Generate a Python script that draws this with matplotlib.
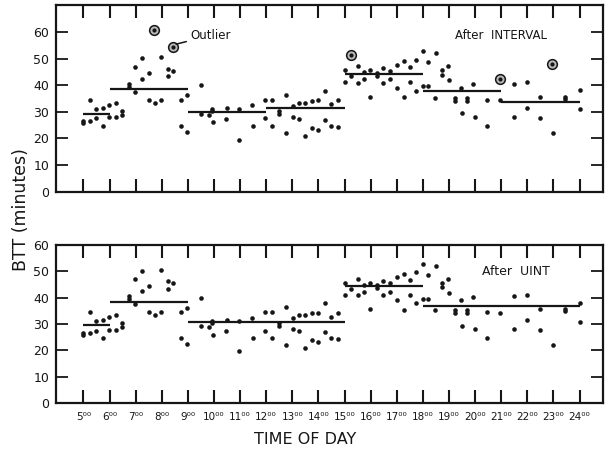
import matplotlib
matplotlib.use("Agg")
import matplotlib.pyplot as plt
import numpy as np

plt.rcParams["font.family"] = ["DejaVu Sans"]

INK = "#161616"

# regular points (time of day in hours, BTT in minutes)
hours = [5.0, 5.0, 5.26, 5.26, 5.49, 5.49, 5.74, 5.74, 5.99, 5.99,
         6.23, 6.23, 6.47, 6.47, 6.74, 6.74, 6.99, 6.99, 7.24, 7.24,
         7.5, 7.5, 7.76, 7.97, 7.97, 8.23, 8.23, 8.44, 8.72, 8.72,
         8.95, 8.97, 9.49, 9.49, 9.81, 9.94, 9.94, 9.96, 10.51, 10.47,
         10.96, 10.96, 11.47, 11.5, 11.95, 11.95, 12.24, 12.24, 12.5, 12.5,
         12.76, 12.76, 13.01, 13.01, 13.27, 13.27, 13.5, 13.5, 13.76, 13.76,
         14.0, 14.0, 14.25, 14.25, 14.48, 14.48, 14.76, 14.76, 15.02, 15.02,
         15.25, 15.5, 15.5, 15.73, 15.73, 15.98, 15.98, 16.24, 16.24, 16.49,
         16.49, 16.75, 16.75, 17.0, 17.0, 17.26, 17.26, 17.51, 17.51, 17.73,
         17.73, 18.02, 18.02, 18.21, 18.21, 18.47, 18.49, 18.75, 18.75, 18.96,
         19.0, 19.22, 19.22, 19.45, 19.5, 19.7, 19.7, 19.93, 19.98, 20.46,
         20.46, 20.95, 21.48, 21.48, 21.99, 21.99, 22.5, 22.5, 22.97, 23.45,
         23.45, 24.0, 24.0]
btt = [26.4, 25.7, 34.4, 26.5, 31.2, 27.5, 31.6, 24.8, 32.7, 27.9,
       33.4, 27.9, 30.4, 28.7, 40.6, 39.4, 46.9, 37.5, 50.2, 42.5,
       44.4, 34.6, 33.4, 50.6, 34.6, 46.2, 43.4, 45.4, 34.4, 24.6,
       36.2, 22.5, 40.0, 29.1, 28.7, 31.2, 30.4, 26.0, 31.5, 27.2,
       31.0, 19.6, 32.4, 24.6, 34.4, 27.5, 34.4, 24.6, 30.4, 29.1,
       36.4, 22.1, 32.1, 28.1, 33.4, 27.2, 33.4, 20.9, 34.0, 23.8,
       34.3, 23.1, 38.0, 27.0, 32.8, 24.7, 34.3, 24.2, 45.6, 41.2,
       43.4, 47.1, 40.9, 44.8, 42.2, 45.7, 35.6, 44.7, 43.5, 46.5,
       40.9, 45.5, 42.2, 47.7, 39.0, 48.9, 35.5, 46.7, 41.2, 49.6,
       37.9, 52.7, 39.6, 39.6, 48.7, 35.3, 52.2, 45.6, 44.0, 47.1,
       41.9, 35.3, 34.0, 39.0, 29.4, 35.3, 34.0, 40.4, 28.2, 34.4,
       24.5, 34.3, 40.6, 28.2, 41.2, 31.6, 35.6, 27.6, 22.2, 35.6,
       34.8, 38.1, 30.9]

# points flagged as outliers by the INTERVAL filter
outlier_hours = [7.72, 8.44, 15.25, 20.95, 22.94]
outlier_btt = [60.9, 54.4, 51.4, 42.5, 47.8]

# mean BTT per interval
interval_start = [5, 6, 9, 12, 15, 18, 21]
interval_end = [6, 9, 12, 15, 18, 21, 24]
interval_mean = [29.1, 38.4, 30.1, 31.5, 44.3, 37.9, 33.8]

uint_start = [5, 6, 9, 15, 18]
uint_end = [6, 9, 15, 18, 24]
uint_mean = [29.5, 38.5, 30.6, 44.5, 36.8]

hour_ticks = list(range(5, 25))


def style_axes(ax, ymax, show_labels):
    ax.set_xlim(3.95, 24.9)
    ax.set_ylim(0, ymax)
    for s in ax.spines.values():
        s.set_linewidth(1.6)
        s.set_color(INK)
    ax.set_xticks(hour_ticks)
    ax.tick_params(axis="x", direction="in", length=9.5, width=1.5,
                   top=True, bottom=True, color=INK, pad=6.5,
                   labelsize=7.5, labelcolor=INK)
    if show_labels:
        ax.set_xticklabels(["{}⁰⁰".format(h) for h in hour_ticks])
    else:
        ax.set_xticklabels([])
    ax.set_yticks(np.arange(0, 61, 10))
    ax.tick_params(axis="y", direction="in", length=8.5, width=1.3,
                   left=True, right=True, color=INK, pad=5,
                   labelsize=9, labelcolor=INK)


def draw_means(ax, start, end, mean):
    ax.hlines(mean, start, end, color=INK, linewidth=1.6)


fig = plt.figure(figsize=(6.05, 4.5), dpi=100)
ax1 = fig.add_axes([56 / 605, 1 - 191.7 / 450, 547 / 605, 186.4 / 450])
ax2 = fig.add_axes([56 / 605, 1 - 403 / 450, 547 / 605, 158 / 450])

# top: After INTERVAL
ax1.plot(hours, btt, "o", color=INK, ms=3.3, mew=0)
ax1.plot(outlier_hours, outlier_btt, "o", mfc="#b8b8b8", mec=INK, ms=7, mew=1.1,
         zorder=1)
ax1.plot(outlier_hours, outlier_btt, "o", color=INK, ms=3.0, mew=0)
draw_means(ax1, interval_start, interval_end, interval_mean)
style_axes(ax1, 70, False)
ax1.text(19.24, 58.8, "After  INTERVAL", fontsize=8.5, color=INK,
         ha="left", va="center")
ax1.annotate("Outlier", xy=(8.55, 55.4), xytext=(9.1, 58.7), fontsize=8.5,
             color=INK, ha="left", va="center",
             arrowprops=dict(arrowstyle="-", color=INK, lw=1.1,
                             shrinkA=1, shrinkB=0))

# bottom: After UINT
ax2.plot(hours, btt, "o", color=INK, ms=3.3, mew=0)
draw_means(ax2, uint_start, uint_end, uint_mean)
style_axes(ax2, 60, True)
ax2.text(20.26, 50.1, "After  UINT", fontsize=9, color=INK,
         ha="left", va="center")

fig.text(0.034, 0.535, "BTT (minutes)", rotation=90, fontsize=12.5,
         color=INK, ha="center", va="center")
fig.text(0.504, 0.023, "TIME OF DAY", fontsize=11.5, color=INK,
         ha="center", va="center")

plt.savefig("out.png", dpi=100)
